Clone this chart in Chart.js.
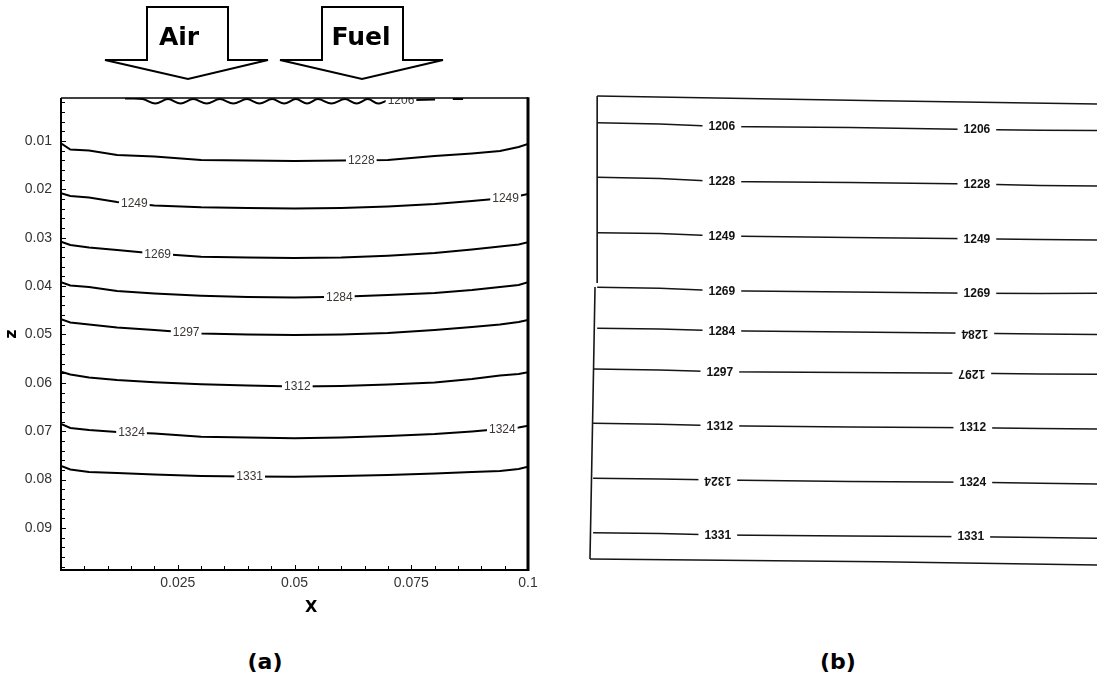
<!DOCTYPE html>
<html>
<head>
<meta charset="utf-8">
<script src="https://cdn.jsdelivr.net/npm/chart.js@4.4.1/dist/chart.umd.min.js"></script>
<style>
  body { margin: 0; background: #fff; }
  #wrap { position: relative; width: 1097px; height: 679px; overflow: hidden; background: #fff; }
  #chartA { position: absolute; left: 0; top: 0; }
  #chartB { position: absolute; left: 588px; top: 90px; }
  #arrows { position: absolute; left: 0; top: 0; }
  .cap { position: absolute; top: 648px; width: 100px; text-align: center;
         font: bold 22px "DejaVu Sans", Verdana, sans-serif; line-height: 28px; color: #000; }
</style>
</head>
<body>
<div id="wrap">
  <canvas id="chartA" width="560" height="640"></canvas>
  <canvas id="chartB" width="509" height="480"></canvas>
  <svg id="arrows" width="560" height="92">
    <polygon points="147,7 228,7 228,60 268,60 188,79 105,60 147,60" fill="#fff" stroke="#000" stroke-width="2"/>
    <text x="179" y="45" font-family="DejaVu Sans" font-weight="bold" font-size="25" text-anchor="middle">Air</text>
    <polygon points="322,7 403,7 403,60 443,60 362,79 280,60 322,60" fill="#fff" stroke="#000" stroke-width="2"/>
    <text x="361" y="45" font-family="DejaVu Sans" font-weight="bold" font-size="25" text-anchor="middle">Fuel</text>
  </svg>
  <div class="cap" style="left:215px">(a)</div>
  <div class="cap" style="left:788px">(b)</div>
</div>
<script>
// ---- panel (a): computed isotherms, x along width, z downward ----
const xTickValues = [0.025, 0.05, 0.075, 0.1];
const xTickLabels = ['0.025', '0.05', '0.075', '0.1'];
const yTickValues = [0.01, 0.02, 0.03, 0.04, 0.05, 0.06, 0.07, 0.08, 0.09];
const yTickLabels = ['0.01', '0.02', '0.03', '0.04', '0.05', '0.06', '0.07', '0.08', '0.09'];

const xPos = [0, 0.002, 0.006, 0.012, 0.02, 0.03, 0.04, 0.05, 0.06, 0.07, 0.08, 0.088, 0.094, 0.098, 0.1];
const t1228 = [0.01048, 0.01176, 0.01196, 0.01289, 0.01320, 0.01393, 0.01403, 0.01413, 0.01403, 0.01393, 0.01310, 0.01258, 0.01207, 0.01124, 0.01062];
const t1249 = [0.02081, 0.02137, 0.02168, 0.02261, 0.02333, 0.02371, 0.02385, 0.02395, 0.02385, 0.02354, 0.02302, 0.02240, 0.02189, 0.02137, 0.02096];
const t1269 = [0.03082, 0.03150, 0.03202, 0.03253, 0.03326, 0.03392, 0.03408, 0.03419, 0.03408, 0.03371, 0.03315, 0.03243, 0.03181, 0.03140, 0.03094];
const t1284 = [0.03921, 0.03987, 0.04018, 0.04101, 0.04152, 0.04198, 0.04225, 0.04235, 0.04219, 0.04183, 0.04142, 0.04080, 0.04018, 0.03977, 0.03921];
const t1297 = [0.04686, 0.04752, 0.04793, 0.04855, 0.04907, 0.04979, 0.05000, 0.05010, 0.05000, 0.04969, 0.04907, 0.04845, 0.04793, 0.04742, 0.04700];
const t1312 = [0.05769, 0.05827, 0.05889, 0.05941, 0.05988, 0.06029, 0.06054, 0.06075, 0.06065, 0.06034, 0.05992, 0.05920, 0.05848, 0.05817, 0.05781];
const t1324 = [0.06850, 0.06933, 0.06974, 0.07016, 0.07047, 0.07113, 0.07129, 0.07146, 0.07129, 0.07098, 0.07057, 0.07005, 0.06954, 0.06923, 0.06885];
const t1331 = [0.07718, 0.07791, 0.07842, 0.07863, 0.07894, 0.07925, 0.07935, 0.07940, 0.07925, 0.07904, 0.07873, 0.07842, 0.07822, 0.07780, 0.07733];

// the 1206 line is a wavy trace hugging the top wall
const x1206 = [0.0137, 0.0175, 0.0202, 0.0229, 0.0256, 0.0283, 0.0312, 0.0340, 0.0369, 0.0398, 0.0425, 0.0452, 0.0478, 0.0503, 0.0527, 0.0550, 0.0579, 0.0608, 0.0633, 0.0657, 0.0679, 0.0700, 0.0758, 0.0801, 0.0820, 0.0839, 0.0861];
const t1206 = [0.00121, 0.00132, 0.00225, 0.00132, 0.00225, 0.00132, 0.00225, 0.00132, 0.00225, 0.00132, 0.00225, 0.00132, 0.00225, 0.00132, 0.00225, 0.00132, 0.00225, 0.00132, 0.00225, 0.00132, 0.00225, 0.00160, 0.00152, 0.00142, null, 0.00132, 0.00132];

const leftLines = [
  { label: '1206', xs: x1206, zs: t1206, at: [0.0728], tension: 0.35 },
  { label: '1228', xs: xPos, zs: t1228, at: [0.0643] },
  { label: '1249', xs: xPos, zs: t1249, at: [0.0157, 0.0952] },
  { label: '1269', xs: xPos, zs: t1269, at: [0.0207] },
  { label: '1284', xs: xPos, zs: t1284, at: [0.0596] },
  { label: '1297', xs: xPos, zs: t1297, at: [0.0268] },
  { label: '1312', xs: xPos, zs: t1312, at: [0.0506] },
  { label: '1324', xs: xPos, zs: t1324, at: [0.0151, 0.0945] },
  { label: '1331', xs: xPos, zs: t1331, at: [0.0404] }
];

// ---- panel (b): measured isotherms (scanned), position as fraction of panel ----
const uTop = [0.018, 0.141, 0.259, 0.515, 0.760, 0.888, 1.0];
const uLow = [0.010, 0.141, 0.259, 0.515, 0.760, 0.888, 1.0];
const m1206 = [0.0681, 0.0708, 0.0760, 0.0781, 0.0823, 0.0840, 0.0844];
const m1228 = [0.1819, 0.1844, 0.1906, 0.1927, 0.1958, 0.1990, 0.2000];
const m1249 = [0.2973, 0.2990, 0.3042, 0.3073, 0.3098, 0.3115, 0.3125];
const m1269 = [0.4110, 0.4131, 0.4181, 0.4208, 0.4235, 0.4240, 0.4235];
const m1284 = [0.4965, 0.4979, 0.5015, 0.5042, 0.5067, 0.5083, 0.5094];
const m1297 = [0.5813, 0.5833, 0.5869, 0.5885, 0.5902, 0.5917, 0.5923];
const m1312 = [0.6944, 0.6965, 0.6994, 0.7021, 0.7035, 0.7052, 0.7063];
const m1324 = [0.8090, 0.8104, 0.8125, 0.8156, 0.8173, 0.8194, 0.8208];
const m1331 = [0.9223, 0.9240, 0.9271, 0.9292, 0.9306, 0.9323, 0.9340];

const rightLines = [
  { label: '1206', xs: uTop, zs: m1206, at: [0.263, 0.764], flip: [false, false] },
  { label: '1228', xs: uTop, zs: m1228, at: [0.263, 0.764], flip: [false, false] },
  { label: '1249', xs: uTop, zs: m1249, at: [0.263, 0.764], flip: [false, false] },
  { label: '1269', xs: uTop, zs: m1269, at: [0.263, 0.764], flip: [false, false] },
  { label: '1284', xs: uTop, zs: m1284, at: [0.263, 0.760], flip: [false, true] },
  { label: '1297', xs: uLow, zs: m1297, at: [0.259, 0.754], flip: [false, true] },
  { label: '1312', xs: uLow, zs: m1312, at: [0.259, 0.756], flip: [false, false] },
  { label: '1324', xs: uLow, zs: m1324, at: [0.255, 0.756], flip: [true, false] },
  { label: '1331', xs: uLow, zs: m1331, at: [0.255, 0.752], flip: [false, false] }
];

// frame of the scanned figure
const frameTopU = [0.018, 0.574, 1.0];
const frameTopV = [0.0125, 0.0223, 0.0292];
const frameLeftU = [0.018, 0.018, 0.0138, 0.0098, 0.0039];
const frameLeftV = [0.0125, 0.402, 0.4104, 0.6458, 0.9771];
const frameBotU = [0.0039, 0.574, 1.0];
const frameBotV = [0.9771, 0.9827, 0.9896];

function toPoints(xs, zs) {
  return xs.map((x, i) => ({ x: x, y: zs[i] }));
}

// y pixel of a drawn line at a given x pixel
function yAt(pts, px) {
  for (let i = 0; i < pts.length - 1; i++) {
    const a = pts[i], b = pts[i + 1];
    if (a.skip || b.skip) continue;
    if (px >= a.x && px <= b.x) {
      const t = b.x === a.x ? 0 : (px - a.x) / (b.x - a.x);
      return a.y + t * (b.y - a.y);
    }
  }
  return null;
}

const contourLabels = {
  id: 'contourLabels',
  afterDatasetsDraw(chart, args, opts) {
    const { ctx, chartArea: a, scales } = chart;
    ctx.save();
    ctx.beginPath();
    ctx.rect(a.left, a.top, a.right - a.left, a.bottom - a.top);
    ctx.clip();
    ctx.font = opts.font;
    ctx.textAlign = 'center';
    ctx.textBaseline = 'middle';
    chart.data.datasets.forEach((ds, i) => {
      if (!ds.labelAt) return;
      const pts = chart.getDatasetMeta(i).data;
      ds.labelAt.forEach((xv, k) => {
        const px = scales.x.getPixelForValue(xv);
        const py = yAt(pts, px);
        if (py === null) return;
        const w = ctx.measureText(ds.label).width + opts.gap * 2;
        ctx.fillStyle = '#fff';
        ctx.fillRect(px - w / 2, py - opts.boxH / 2, w, opts.boxH);
        ctx.fillStyle = opts.color;
        ctx.save();
        ctx.translate(px, py + opts.dy);
        if (ds.labelFlip && ds.labelFlip[k]) ctx.rotate(Math.PI);
        ctx.fillText(ds.label, 0, 0);
        ctx.restore();
      });
    });
    ctx.restore();
  }
};

// inward tick marks and the plot box of panel (a)
const leftFrame = {
  id: 'leftFrame',
  afterDraw(chart) {
    const { ctx, chartArea: a, scales: { x, y } } = chart;
    ctx.save();
    ctx.strokeStyle = '#000';
    ctx.lineWidth = 1;
    for (let k = 1; k <= 49; k++) {
      const v = k * 0.002;
      if (v < y.min || v > y.max) continue;
      const py = Math.round(y.getPixelForValue(v)) + 0.5;
      ctx.beginPath();
      ctx.moveTo(a.left, py);
      ctx.lineTo(a.left + (k % 5 === 0 ? 5 : 4), py);
      ctx.stroke();
    }
    for (let k = 1; k <= 19; k++) {
      const px = Math.round(x.getPixelForValue(k * 0.005)) + 0.5;
      ctx.beginPath();
      ctx.moveTo(px, a.bottom);
      ctx.lineTo(px, a.bottom - (k % 5 === 0 ? 5 : 4));
      ctx.stroke();
    }
    ctx.lineWidth = 2;
    ctx.beginPath();
    ctx.moveTo(a.left, a.top);
    ctx.lineTo(a.left, a.bottom);
    ctx.lineTo(a.right, a.bottom);
    ctx.stroke();
    ctx.lineWidth = 1.5;
    ctx.beginPath();
    ctx.moveTo(a.left, a.top);
    ctx.lineTo(a.right, a.top);
    ctx.stroke();
    ctx.lineWidth = 3;
    ctx.beginPath();
    ctx.moveTo(a.right, a.top - 0.75);
    ctx.lineTo(a.right, a.bottom + 1);
    ctx.stroke();
    ctx.restore();
  }
};

const tickFont = { family: '"Liberation Sans", Arial, sans-serif', size: 14 };
const titleFont = { family: '"DejaVu Sans", Verdana, sans-serif', size: 16, weight: 'bold' };

new Chart(document.getElementById('chartA'), {
  type: 'line',
  data: {
    datasets: leftLines.map(l => ({
      label: l.label,
      data: toPoints(l.xs, l.zs),
      labelAt: l.at,
      borderColor: '#000',
      borderWidth: 2,
      tension: l.tension || 0,
      spanGaps: false,
      pointRadius: 0
    }))
  },
  options: {
    responsive: false,
    animation: false,
    devicePixelRatio: 1,
    layout: { padding: { top: 98, right: 32, bottom: 20, left: 0 } },
    plugins: {
      legend: { display: false },
      tooltip: { enabled: false },
      contourLabels: { font: '12px "Liberation Sans", Arial, sans-serif', color: '#3b3634', gap: 2, boxH: 9, dy: 0.5 }
    },
    scales: {
      x: {
        type: 'linear', min: 0, max: 0.1,
        afterFit: s => { s.height = 50; },
        afterBuildTicks: s => { s.ticks = xTickValues.map(v => ({ value: v })); },
        ticks: { callback: (v, i) => xTickLabels[i], font: tickFont, color: '#333', padding: 5, maxRotation: 0, autoSkip: false },
        grid: { display: false, drawTicks: false },
        border: { display: false },
        title: { display: true, text: '      X', font: titleFont, color: '#000', padding: { top: 0, bottom: 3 } }
      },
      y: {
        type: 'linear', reverse: true, min: 0.0011, max: 0.0987,
        afterFit: s => { s.width = 61; },
        afterBuildTicks: s => { s.ticks = yTickValues.map(v => ({ value: v })); },
        ticks: { callback: (v, i) => yTickLabels[i], font: tickFont, color: '#333', padding: 9, autoSkip: false },
        grid: { display: false, drawTicks: false },
        border: { display: false },
        title: { display: true, text: 'z', font: titleFont, color: '#000', padding: { top: 2, bottom: 0 } }
      }
    }
  },
  plugins: [contourLabels, leftFrame]
});

const frameSets = [
  toPoints(frameTopU, frameTopV),
  toPoints(frameLeftU.slice(0, 2), frameLeftV.slice(0, 2)),
  toPoints(frameLeftU.slice(2), frameLeftV.slice(2)),
  toPoints(frameBotU, frameBotV)
];

new Chart(document.getElementById('chartB'), {
  type: 'line',
  data: {
    datasets: rightLines.map(l => ({
      label: l.label,
      data: toPoints(l.xs, l.zs),
      labelAt: l.at,
      labelFlip: l.flip,
      borderColor: '#161616',
      borderWidth: 1.6,
      tension: 0,
      pointRadius: 0,
      clip: 3
    })).concat(frameSets.map((pts, i) => ({
      label: 'frame' + i,
      data: pts,
      borderColor: '#161616',
      borderWidth: 1.6,
      tension: 0,
      pointRadius: 0,
      clip: 3
    })))
  },
  options: {
    responsive: false,
    animation: false,
    devicePixelRatio: 1,
    layout: { padding: 0 },
    plugins: {
      legend: { display: false },
      tooltip: { enabled: false },
      contourLabels: { font: 'bold 12px "Liberation Sans", Arial, sans-serif', color: '#111', gap: 6, boxH: 11, dy: 0.5 }
    },
    scales: {
      x: { type: 'linear', min: 0, max: 1, display: false },
      y: { type: 'linear', min: 0, max: 1, reverse: true, display: false }
    }
  },
  plugins: [contourLabels]
});
</script>
</body>
</html>
